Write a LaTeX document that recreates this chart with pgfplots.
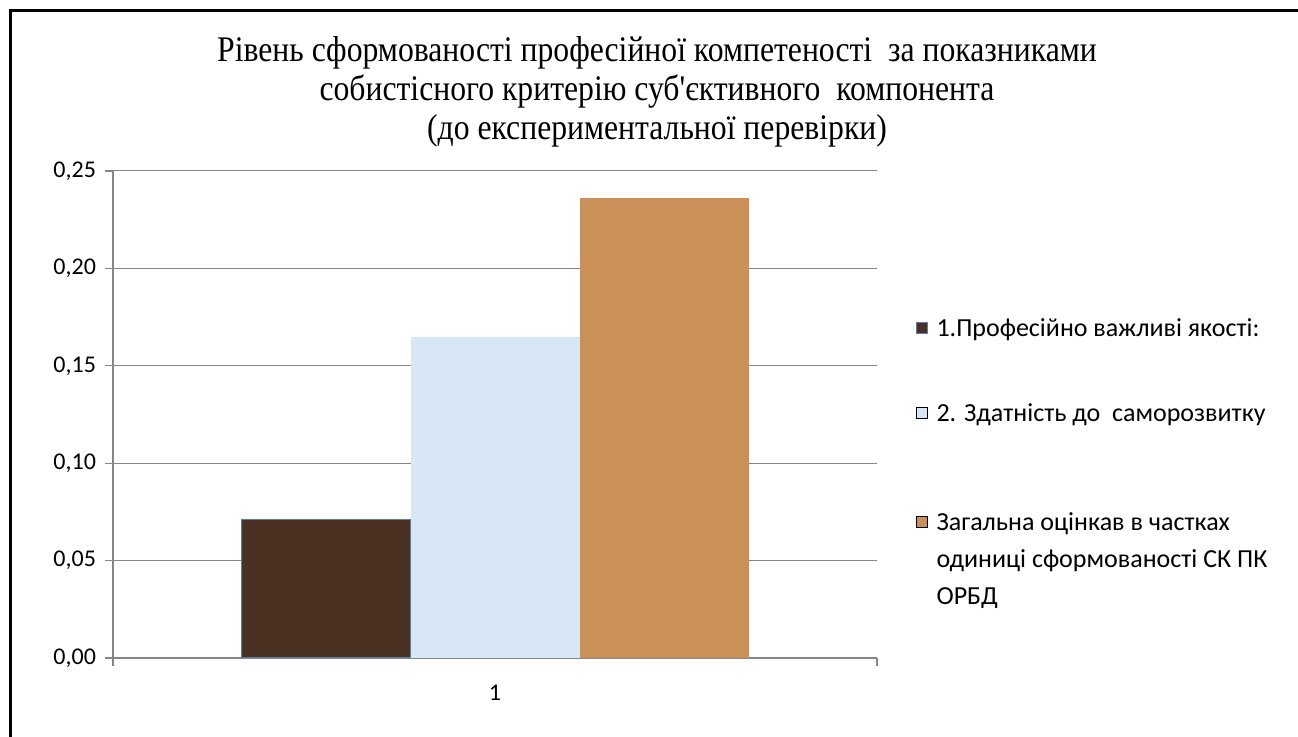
\documentclass[border=0pt]{standalone}
\usepackage{fontspec}
\setmainfont{Carlito}
\newfontfamily\titlefont[FakeStretch=0.88]{Liberation Serif}
\usepackage{pgfplots}
\pgfplotsset{compat=1.18}

\definecolor{gridgray}{HTML}{868686}
\definecolor{marble}{HTML}{4A3122}
\definecolor{marbleedge}{HTML}{5B7DAA}
\definecolor{paleblue}{HTML}{D8E7F6}
\definecolor{oak}{HTML}{CB9058}

\begin{document}
\begin{tikzpicture}[x=0.5pt,y=0.5pt]
\useasboundingbox (0,0) rectangle (1298,737);
\fill[white] (0,0) rectangle (1298,737);
\draw[line width=1.5pt] (10,0) -- (10,726) -- (1298,726);
\node[font=\titlefont\fontsize{18}{19.5}\selectfont, align=center] at (657,645)
  {Рівень сформованості професійної компетеності \ за показниками\\
   собистісного критерію суб'єктивного \ компонента\\
   (до експериментальної перевірки)};

\begin{axis}[
  at={(56.5pt,39.5pt)}, anchor=south west,
  scale only axis, width=382pt, height=243.5pt,
  xmin=-0.5, xmax=0.5, ymin=0, ymax=0.25,
  ybar=0pt, bar width=0.2212,
  axis x line*=bottom, axis y line*=left,
  axis line style={gridgray, line width=0.6pt},
  ytick={0,0.05,0.1,0.15,0.2,0.25},
  ymajorgrids, grid style={gridgray, line width=0.5pt},
  yticklabel style={xshift=-1pt, /pgf/number format/fixed, /pgf/number format/fixed zerofill,
    /pgf/number format/precision=2, /pgf/number format/use comma, /pgf/number format/assume math mode=true},
  tick label style={font=\fontsize{12}{14}\selectfont, black},
  xtick={-0.5,0.5}, xticklabels={},
  extra x ticks={0}, extra x tick labels={1},
  extra x tick style={major tick length=0pt, grid=none, xticklabel style={yshift=-10pt}},
  tick align=outside, major tick length=4pt,
  tick style={gridgray, line width=0.6pt},
  legend style={at={(rel axis cs:1.043,0.715)}, anchor=north west, draw=none, fill=none,
    font=\fontsize{13}{18.5}\selectfont, row sep=28.5pt, cells={anchor=base west, align=left}},
  legend image code/.code={\draw[#1, line width=0.5pt] (0pt,1.5pt) rectangle (5.5pt,7pt);
    \path (7.5pt,1.5pt);},
]
\addplot[fill=marble, draw=marbleedge, line width=0.8pt] coordinates {(0,0.071)};
\addlegendentry{1.Професійно важливі якості:}
\addplot[fill=paleblue, draw=none] coordinates {(0,0.165)};
\addlegendentry{2. Здатність до \ саморозвитку}
\addplot[fill=oak, draw=none] coordinates {(0,0.236)};
\addlegendentry{\vtop{\hbox{\rule{0pt}{20.5pt}Загальна оцінкав в частках}\hbox{одиниці сформованості СК ПК}\hbox{ОРБД}}}
\end{axis}
\end{tikzpicture}
\end{document}
